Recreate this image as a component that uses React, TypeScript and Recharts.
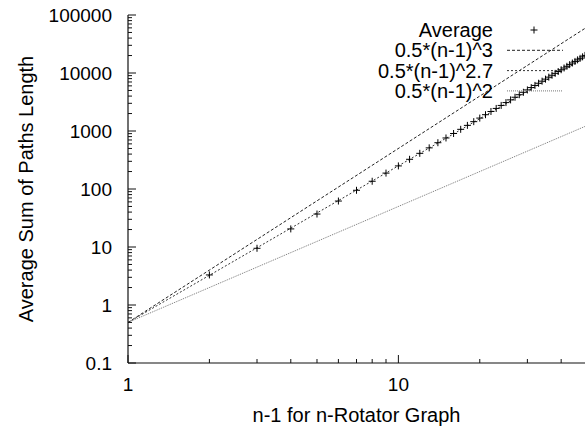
import { ComposedChart, Legend, Line, Scatter, XAxis, YAxis } from "recharts";

// measured averages, n-1 = 2..49
const avgX = [
  2, 3, 4, 5, 6, 7, 8, 9, 10, 11, 12, 13, 14, 15, 16, 17, 18, 19, 20, 21, 22, 23, 24, 25,
  26, 27, 28, 29, 30, 31, 32, 33, 34, 35, 36, 37, 38, 39, 40, 41, 42, 43, 44, 45, 46, 47, 48, 49,
];
const avgY = [
  3.3, 9.5, 20.5, 37, 62, 95, 136, 188, 250, 325, 412, 512, 628, 758, 905, 1068, 1250, 1450,
  1670, 1910, 2170, 2450, 2760, 3090, 3440, 3820, 4220, 4650, 5110, 5600, 6110, 6660, 7230,
  7840, 8480, 9150, 9860, 10600, 11380, 12200, 13050, 13940, 14870, 15840, 16850, 17900,
  19000, 20100,
];

// reference curves (straight on log-log, so two end points each)
const fitX = [1, 49];
const cubeY = [0.5, 58825];
const pow27Y = [0.5, 18320];
const squareY = [0.5, 1200];

const legendLabels = ["Average", "0.5*(n-1)^3", "0.5*(n-1)^2.7", "0.5*(n-1)^2"];

const xMajor = [1, 10];
const xTicks = [1, 2, 3, 4, 5, 6, 7, 8, 9, 10, 20, 30, 40];
const yMajor = [0.1, 1, 10, 100, 1000, 10000, 100000];
const yTicks = [
  ...yMajor.slice(0, -1).flatMap((d) => [1, 2, 3, 4, 5, 6, 7, 8, 9].map((m) => m * d)),
  100000,
];

const W = 586;
const H = 427;
const FONT = "'Liberation Sans', Arial, Helvetica, sans-serif";

const avgData = avgX.map((x, i) => ({ x, y: avgY[i] }));
const cubeData = fitX.map((x, i) => ({ x, y: cubeY[i] }));
const pow27Data = fitX.map((x, i) => ({ x, y: pow27Y[i] }));
const squareData = fitX.map((x, i) => ({ x, y: squareY[i] }));

const isMajor = (majors: number[], v: number) =>
  majors.some((m) => Math.abs(m - v) / m < 1e-9);

type Side = "bottom" | "top" | "left" | "right";

const makeTick = (side: Side, majors: number[], showLabel: boolean) => (props: any) => {
  const { x, y, payload } = props;
  const v = payload.value as number;
  const major = isMajor(majors, v);
  const len = major ? 8 : 4;
  let line;
  if (side === "bottom") line = <line x1={x} y1={y} x2={x} y2={y - len} />;
  else if (side === "top") line = <line x1={x} y1={y} x2={x} y2={y + len} />;
  else if (side === "left") line = <line x1={x} y1={y} x2={x + len} y2={y} />;
  else line = <line x1={x} y1={y} x2={x - len} y2={y} />;
  return (
    <g stroke="#111" strokeWidth={1}>
      {line}
      {showLabel && major && side === "bottom" && (
        <text x={x} y={y + 21} dy="0.35em" textAnchor="middle" fill="#000" stroke="none"
          fontSize={19} fontFamily={FONT}>
          {v}
        </text>
      )}
      {showLabel && major && side === "left" && (
        <text x={x - 16} y={y} dy="0.35em" textAnchor="end" fill="#000" stroke="none"
          fontSize={19} fontFamily={FONT}>
          {v}
        </text>
      )}
    </g>
  );
};

const Plus = (props: any) => {
  const { cx, cy } = props;
  if (cx == null || cy == null) return <g />;
  return <path d={`M${cx - 3.5},${cy}h7M${cx},${cy - 3.5}v7`} stroke="#000" strokeWidth={1} />;
};

const lineStyles = [
  { stroke: "#222", dash: "3 2" },
  { stroke: "#333", dash: "2 2" },
  { stroke: "#777", dash: "1 1" },
];

const LegendBox = () => (
  <div style={{ position: "relative", width: 0, height: 0 }}>
    <svg width={W} height={110} style={{ position: "absolute", left: 0, top: 0, overflow: "visible" }}>
      {legendLabels.map((label, i) => {
        const cy = 30 + i * 20.3;
        return (
          <g key={label}>
            <text x={493} y={cy} dy="0.35em" textAnchor="end" fontSize={20} fontFamily={FONT} fill="#000">
              {label}
            </text>
            {i === 0 ? (
              <path d={`M${534 - 3.5},${cy}h7M534,${cy - 3.5}v7`} stroke="#000" strokeWidth={1} />
            ) : (
              <line x1={507} x2={563} y1={cy} y2={cy} stroke={lineStyles[i - 1].stroke}
                strokeDasharray={lineStyles[i - 1].dash} strokeWidth={1} />
            )}
          </g>
        );
      })}
    </svg>
  </div>
);

export default function App() {
  return (
    <div style={{ position: "absolute", left: 0, top: 0, background: "#fff" }}>
      <ComposedChart width={W} height={H} margin={{ top: 15, right: 1, bottom: 0, left: 0 }}>
        <XAxis
          dataKey="x"
          type="number"
          scale="log"
          domain={[1, 49]}
          allowDataOverflow
          ticks={xTicks}
          interval={0}
          height={64}
          tickSize={0}
          tickMargin={0}
          tick={makeTick("bottom", xMajor, true)}
          axisLine={{ stroke: "#111", strokeWidth: 1.2 }}
          label={{ value: "n-1 for n-Rotator Graph", position: "insideBottom", offset: 5,
            style: { fontSize: 20, fontFamily: FONT, fill: "#000" } }}
        />
        <XAxis
          xAxisId="top"
          orientation="top"
          dataKey="x"
          type="number"
          scale="log"
          domain={[1, 49]}
          allowDataOverflow
          ticks={xTicks}
          interval={0}
          height={0}
          tickSize={0}
          tickMargin={0}
          tick={makeTick("top", xMajor, false)}
          axisLine={{ stroke: "#111", strokeWidth: 1.2 }}
        />
        <YAxis
          dataKey="y"
          type="number"
          scale="log"
          domain={[0.1, 100000]}
          allowDataOverflow
          ticks={yTicks}
          interval={0}
          width={128}
          tickSize={0}
          tickMargin={0}
          tick={makeTick("left", yMajor, true)}
          axisLine={{ stroke: "#111", strokeWidth: 1.2 }}
          label={{ value: "Average Sum of Paths Length", angle: -90, position: "insideLeft", offset: 26,
            style: { textAnchor: "middle", fontSize: 20, fontFamily: FONT, fill: "#000" } }}
        />
        <YAxis
          yAxisId="right"
          orientation="right"
          dataKey="y"
          type="number"
          scale="log"
          domain={[0.1, 100000]}
          allowDataOverflow
          ticks={yTicks}
          interval={0}
          width={0}
          tickSize={0}
          tickMargin={0}
          tick={makeTick("right", yMajor, false)}
          axisLine={{ stroke: "#111", strokeWidth: 1.2 }}
        />
        <Legend content={<LegendBox />} wrapperStyle={{ left: 0, top: 0, width: 0, height: 0 }} />
        <Line data={cubeData} dataKey="y" type="linear" dot={false} stroke={lineStyles[0].stroke}
          strokeDasharray={lineStyles[0].dash} strokeWidth={1} isAnimationActive={false} />
        <Line data={pow27Data} dataKey="y" type="linear" dot={false} stroke={lineStyles[1].stroke}
          strokeDasharray={lineStyles[1].dash} strokeWidth={1} isAnimationActive={false} />
        <Line data={squareData} dataKey="y" type="linear" dot={false} stroke={lineStyles[2].stroke}
          strokeDasharray={lineStyles[2].dash} strokeWidth={1} isAnimationActive={false} />
        <Scatter data={avgData} dataKey="y" shape={<Plus />} isAnimationActive={false} />
      </ComposedChart>
    </div>
  );
}
